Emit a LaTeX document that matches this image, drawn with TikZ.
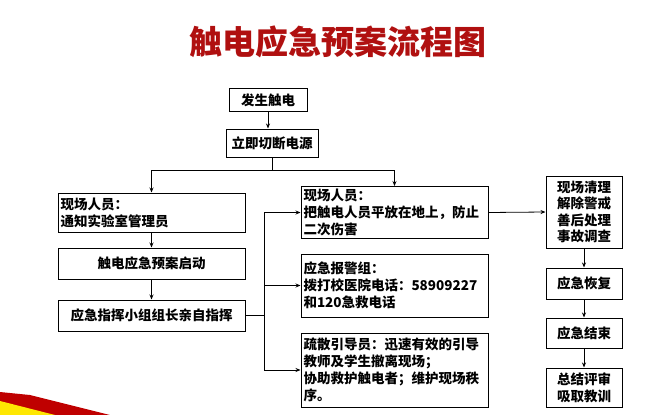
\documentclass[tikz,border=0pt]{standalone}
\usepackage{fontspec}
\setmainfont{Noto Sans CJK SC}
\usetikzlibrary{arrows.meta}
\definecolor{ttl}{HTML}{B01010}
\begin{document}
\begin{tikzpicture}[x=1pt,y=-1pt,
 bx/.style={draw,line width=1pt,minimum height=#1,inner sep=2.5pt,font=\fontsize{13.5}{17}\selectfont\bfseries},
 bx/.default=23,
 ar/.style={-{Stealth[length=5pt,width=4pt]},line width=0.8pt},
 ln/.style={line width=0.8pt}]
\useasboundingbox (0,0) rectangle (665,415);
\fill[red!75!black] (0,392) -- (30,395) -- (110,415) -- (0,415) -- cycle;
\fill[yellow!90!orange] (0,401) -- (55,415) -- (0,415) -- cycle;
\node[text=ttl,font=\fontsize{33}{36}\selectfont\bfseries] (title) at (338,42) {触电应急预案流程图};
\node[bx,minimum width=78] (a) at (268,100) {发生触电};
\node[bx=28,minimum width=92] (b) at (272,143) {立即切断电源};
\node[bx=39,minimum width=187,align=left,text width=182] (l1) at (151.5,212.5) {现场人员：\\通知实验室管理员};
\node[bx=31,minimum width=187] (l2) at (151.5,263.5) {触电应急预案启动};
\node[bx=31,minimum width=187] (l3) at (151.5,315.5) {应急指挥小组组长亲自指挥};
\node[bx=51,minimum width=187,align=left,text width=182] (r1) at (394.5,212.5) {现场人员：\\把触电人员平放在地上，防止\\二次伤害};
\node[bx=63,minimum width=187,align=left,text width=182] (r2) at (394.5,285.5) {应急报警组：\\拨打校医院电话：58909227\\和120急救电话};
\node[bx=74,minimum width=187,align=left,text width=182] (r3) at (394.5,370) {疏散引导员：迅速有效的引导\\教师及学生撤离现场；\\协助救护触电者；维护现场秩\\序。};
\node[bx=72,minimum width=76,align=center,text width=71,font=\fontsize{13.5}{16.5}\selectfont\bfseries] (f1) at (584,212) {现场清理\\解除警戒\\善后处理\\事故调查};
\node[bx=31,minimum width=76] (f2) at (584,283.5) {应急恢复};
\node[bx=30,minimum width=76] (f3) at (584,333) {应急结束};
\node[bx=39,minimum width=76,align=center,text width=71] (f4) at (584,387.5) {总结评审\\吸取教训};
\draw[ar] (a.south) -- (a.south|-b.north);
\coordinate (j) at (272,170);
\draw[ln] (b) -- (j);
\draw[ar] (j) -| (l1.north);
\draw[ar] (j) -| (r1.north);
\draw[ar] (l1) -- (l2);
\draw[ar] (l2) -- (l3);
\coordinate (k) at (264,315.5);
\draw[ln] (l3.east) -- (k);
\draw[ar] (k) |- (r1.west);
\draw[ar] (k) |- (r2.west);
\draw[ar] (k) |- (r3.west);
\draw[ar] (r1.east) -- (f1.west);
\draw[ar] (f1) -- (f2);
\draw[ar] (f2) -- (f3);
\draw[ar] (f3) -- (f4);
\end{tikzpicture}
\end{document}
